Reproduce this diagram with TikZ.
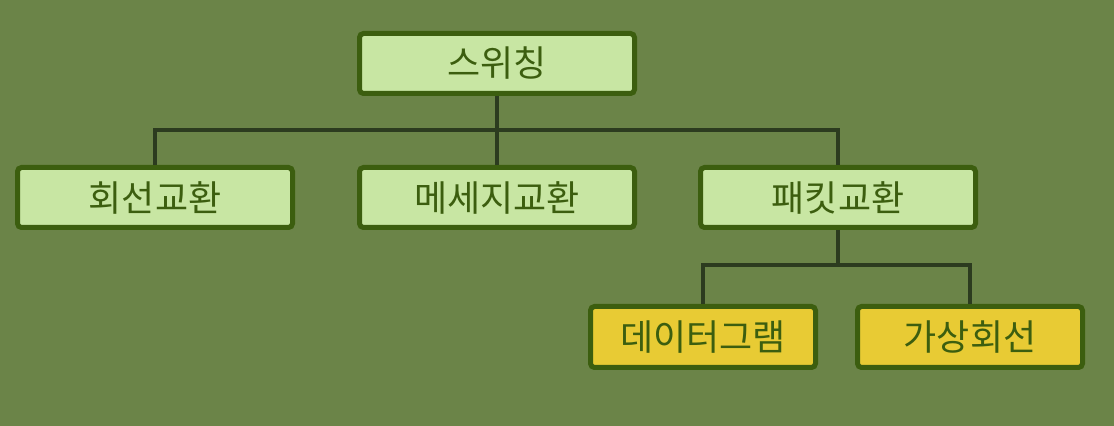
\documentclass[tikz,border=0pt]{standalone}
\usepackage{fontspec}
\usepackage{xcolor}
\usepackage{tikz}
\setmainfont{Noto Sans CJK KR}
\definecolor{bgcolor}{HTML}{6B8448}
\definecolor{boxfill}{HTML}{C8E6A3}
\definecolor{leaffill}{HTML}{E8CB34}
\definecolor{boxline}{HTML}{3C5E0F}
\definecolor{connline}{HTML}{2C3B1F}

\begin{document}
\begin{tikzpicture}[x=0.5pt, y=-0.5pt,
    box/.style={draw=boxline, line width=2.5pt, fill=boxfill, rounded corners=2pt,
      minimum width=137.5pt, minimum height=30pt, inner sep=0pt,
      text=boxline, font=\fontsize{18pt}{20pt}\selectfont},
    leaf/.style={box, fill=leaffill, minimum width=112.5pt, minimum height=30.5pt},
    conn/.style={draw=connline, line width=2pt}
]
  % Canvas
  \fill[bgcolor] (0,0) rectangle (1114,426);
  \useasboundingbox (0,0) rectangle (1114,426);

  % Top level
  \node[box] (sw) at (497,63.5) {스위칭};

  % Second level
  \node[box] (ckt) at (155,197.5) {회선교환};
  \node[box] (msg) at (497,197.5) {메세지교환};
  \node[box] (pkt) at (838,197.5) {패킷교환};

  % Packet switching kinds
  \node[leaf] (dgm) at (703,337) {데이터그램};
  \node[leaf] (vc) at (970,337) {가상회선};

  % Connectors
  \coordinate (bus1) at (0,130);
  \coordinate (bus2) at (0,265);
  \draw[conn] (sw.south) -- (sw.south |- bus1);
  \draw[conn] (ckt.north) -- (ckt.north |- bus1) -- (pkt.north |- bus1) -- (pkt.north);
  \draw[conn] (msg.north) -- (msg.north |- bus1);
  \draw[conn] (pkt.south) -- (pkt.south |- bus2);
  \draw[conn] (dgm.north) -- (dgm.north |- bus2) -- (vc.north |- bus2) -- (vc.north);

\end{tikzpicture}
\end{document}
